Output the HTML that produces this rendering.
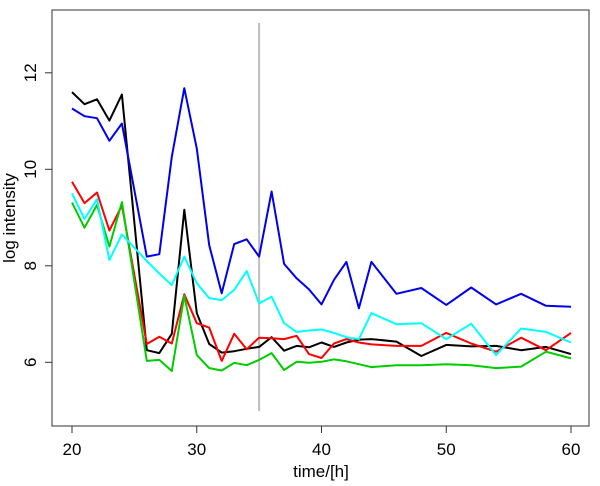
<!DOCTYPE html>
<html><head><meta charset="utf-8"><style>
html,body{margin:0;padding:0;background:#fff;}
svg{display:block;font-family:"Liberation Sans",sans-serif;}
</style></head><body>
<svg id="chart" width="600" height="486" viewBox="0 0 600 486" xmlns="http://www.w3.org/2000/svg">
<rect x="52" y="10" width="537" height="416" fill="none" stroke="#333" stroke-width="1"/>
<g id="axes"></g>
<g id="series"></g>
<text x="321" y="477" font-size="17" text-anchor="middle">time/[h]</text>
<text transform="translate(15,218) rotate(-90)" font-size="17" text-anchor="middle">log intensity</text>
</svg>
<script>
const times = [20,21,22,23,24,26,27,28,29,30,31,32,33,34,35,36,37,38,39,40,41,42,43,44,46,48,50,52,54,56,58,60];
const blue  = [11.26,11.10,11.06,10.59,10.95,8.19,8.24,10.26,11.68,10.43,8.43,7.43,8.45,8.55,8.19,9.54,8.04,7.74,7.51,7.20,7.71,8.08,7.12,8.08,7.42,7.54,7.19,7.55,7.20,7.42,7.17,7.15];
const black = [11.60,11.35,11.45,11.01,11.55,6.25,6.19,6.59,9.16,7.02,6.38,6.20,6.23,6.28,6.32,6.52,6.24,6.34,6.31,6.41,6.32,6.41,6.47,6.48,6.43,6.13,6.36,6.33,6.34,6.25,6.32,6.17];
const red   = [9.74,9.30,9.52,8.73,9.25,6.38,6.53,6.39,7.41,6.81,6.72,6.03,6.59,6.27,6.51,6.50,6.48,6.55,6.17,6.09,6.39,6.48,6.41,6.37,6.34,6.34,6.61,6.39,6.22,6.51,6.25,6.61];
const green = [9.31,8.79,9.26,8.40,9.32,6.03,6.05,5.82,7.38,6.15,5.88,5.83,5.99,5.94,6.05,6.19,5.84,6.01,5.99,6.01,6.06,6.02,5.96,5.90,5.94,5.94,5.96,5.94,5.88,5.91,6.22,6.08];
const cyan  = [9.50,8.97,9.38,8.12,8.65,8.10,7.84,7.60,8.19,7.64,7.33,7.29,7.50,7.89,7.22,7.36,6.81,6.63,6.66,6.68,6.61,6.52,6.48,7.02,6.79,6.81,6.48,6.80,6.15,6.70,6.63,6.41];
const xTicks = [20,30,40,50,60];
const yTicks = [6,8,10,12];
const vlineTime = 35;

const NS = "http://www.w3.org/2000/svg";
function xs(t){ return 72 + (t-20)*(571-72)/40; }
function ys(v){ return 362.3 - (v-6)*48.25; }
const axes = document.getElementById('axes');
function mk(tag, attrs, parent){ const e=document.createElementNS(NS,tag); for(const k in attrs) e.setAttribute(k,attrs[k]); parent.appendChild(e); return e; }

xTicks.forEach(t=>{
  const l = mk('line',{x1:xs(t),x2:xs(t),y1:426,y2:433,stroke:'#333','stroke-width':1},axes);
  
  
  const tx = mk('text',{x:xs(t),y:455,'font-size':17,'text-anchor':'middle'},axes);
  tx.textContent = t;
  
  
});
yTicks.forEach(v=>{
  const l = mk('line',{x1:45,x2:52,y1:ys(v),y2:ys(v),stroke:'#333','stroke-width':1},axes);
  
  
  const tx = mk('text',{transform:`translate(36,${ys(v)}) rotate(-90)`,'font-size':17,'text-anchor':'middle'},axes);
  tx.textContent = v;
  
  
});
const vl = mk('line',{x1:xs(vlineTime),x2:xs(vlineTime),y1:23,y2:411,stroke:'#bebebe','stroke-width':2},axes);



const seriesG = document.getElementById('series');
const list = [['black',black,'#000000'],['red',red,'#ff0000'],['green',green,'#00cd00'],['blue',blue,'#0000ee'],['cyan',cyan,'#00ffff']];
list.forEach(([n,vals,c])=>{
  const pts = times.map((t,i)=>xs(t).toFixed(1)+','+ys(vals[i]).toFixed(1)).join(' ');
  const p = mk('polyline',{points:pts,fill:'none',stroke:c,'stroke-width':2,'stroke-linejoin':'round'},seriesG);
  
  
});
</script>
</body></html>
